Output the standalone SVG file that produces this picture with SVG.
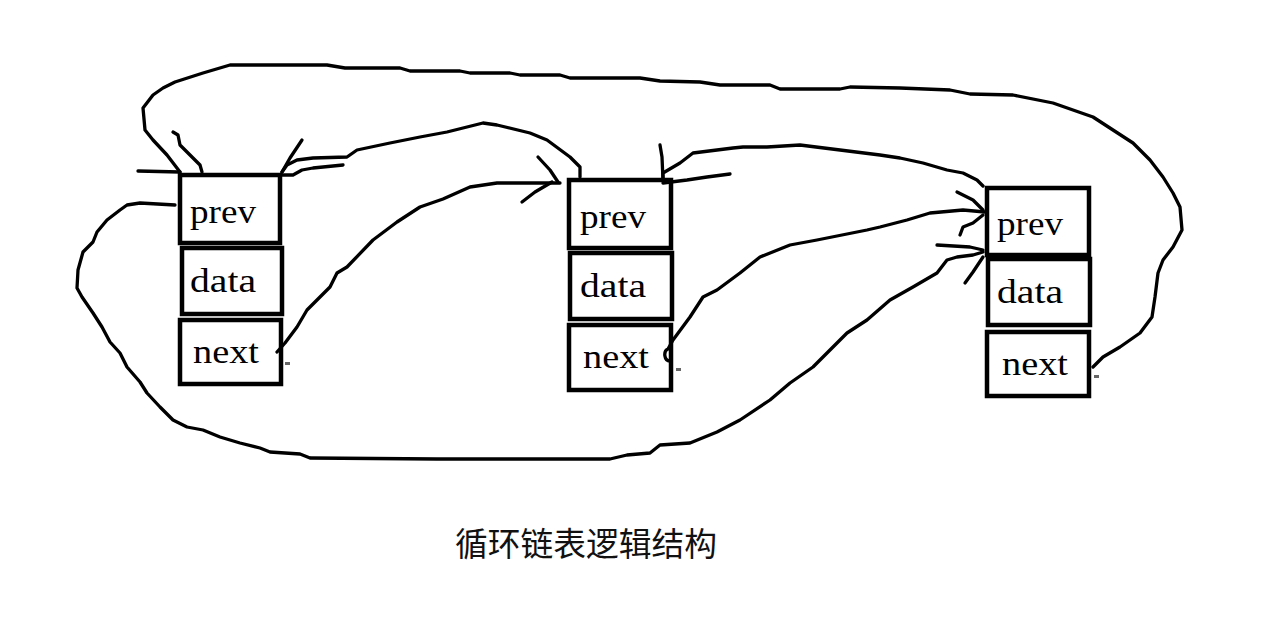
<svg xmlns="http://www.w3.org/2000/svg" width="1272" height="629" viewBox="0 0 1272 629">
<style>
.box{fill:none;stroke:#000;stroke-width:4.5}
.lbl{font-family:"Liberation Serif","DejaVu Serif",serif;font-size:33px;fill:#000}
.ln{fill:none;stroke:#000;stroke-width:3.3;stroke-linejoin:round;stroke-linecap:round}
.dot{fill:#666}
.cap{font-family:"Noto Sans CJK SC","Noto Sans",sans-serif;font-size:33px;fill:#111}
</style>
<rect width="1272" height="629" fill="#fff"/>
<g id="node1">
<rect class="box" x="180" y="175" width="100" height="68"/>
<rect class="box" x="182" y="248" width="100" height="66"/>
<rect class="box" x="180" y="320" width="101" height="64"/>
<text class="lbl" x="190" y="223" textLength="66" lengthAdjust="spacingAndGlyphs">prev</text>
<text class="lbl" x="190" y="292" textLength="66" lengthAdjust="spacingAndGlyphs">data</text>
<text class="lbl" x="193" y="363" textLength="66" lengthAdjust="spacingAndGlyphs">next</text>
<rect class="dot" x="285" y="362" width="5" height="3"/>
</g>
<g id="node2">
<rect class="box" x="569" y="180" width="102" height="68"/>
<rect class="box" x="570" y="253" width="102" height="66"/>
<rect class="box" x="569" y="325" width="102" height="65"/>
<text class="lbl" x="580" y="228" textLength="66" lengthAdjust="spacingAndGlyphs">prev</text>
<text class="lbl" x="580" y="297" textLength="66" lengthAdjust="spacingAndGlyphs">data</text>
<text class="lbl" x="583" y="368" textLength="66" lengthAdjust="spacingAndGlyphs">next</text>
<rect class="dot" x="676" y="368" width="5" height="3"/>
</g>
<g id="node3">
<rect class="box" x="987" y="188" width="102" height="67"/>
<rect class="box" x="988" y="259" width="102" height="66"/>
<rect class="box" x="987" y="332" width="102" height="64"/>
<text class="lbl" x="997" y="235" textLength="66" lengthAdjust="spacingAndGlyphs">prev</text>
<text class="lbl" x="997" y="303" textLength="66" lengthAdjust="spacingAndGlyphs">data</text>
<text class="lbl" x="1002" y="375" textLength="66" lengthAdjust="spacingAndGlyphs">next</text>
<rect class="dot" x="1094" y="375" width="5" height="3"/>
</g>
<g id="connectors">
<path class="ln" d="M1093,367 L1103,357 L1120,347 L1140,333 L1152,317 L1155,297 L1158,273 L1163,260 L1173,247 L1182,230 L1180,207 L1173,193 L1163,177 L1150,160 L1133,143 L1113,130 L1093,117 L1053,103 L1013,95 L970,94 L950,90 L900,88 L850,87 L840,89 L780,89 L770,85 L720,85 L700,82 L660,81 L640,78 L570,78 L560,75 L520,75 L510,73 L470,73 L460,71 L410,71 L400,68 L345,68 L327,65 L230,65 L203,73 L175,82 L163,88 L153,95 L143,108 L145,130 L153,140 L167,155 L180,172"/>
<path class="ln" d="M138,171 L180,172"/>
<path class="ln" d="M173,132 L178,135 L180,145 L190,155 L200,165 L202,172"/>
<path class="ln" d="M580,177 L580,167 L570,157 L547,140 L530,133 L497,125 L483,123 L447,132 L420,137 L390,143 L357,150 L347,157 L313,158 L297,160 L287,165 L282,172"/>
<path class="ln" d="M302,140 L290,158 L282,172"/>
<path class="ln" d="M282,175 L293,175 L302,170 L313,168 L343,165"/>
<path class="ln" d="M277,352 L285,343 L297,327 L307,310 L330,287 L337,273 L347,267 L373,240 L397,222 L420,207 L443,199 L470,187 L497,183 L560,183"/>
<path class="ln" d="M538,157 L550,170 L558,182"/>
<path class="ln" d="M522,202 L535,192 L552,182"/>
<path class="ln" d="M983,186 L977,180 L963,173 L947,170 L923,163 L900,158 L880,155 L800,145 L767,147 L743,147 L733,148 L693,153 L680,163 L663,173 L663,180"/>
<path class="ln" d="M660,145 L662,157 L663,180"/>
<path class="ln" d="M663,183 L687,180 L707,177 L730,174"/>
<path class="ln" d="M670,361 C664,361 663,351 668,349 L673,340 L690,317 L703,297 L717,290 L740,273 L760,257 L790,245 L817,240 L867,230 L880,227 L907,220 L930,213 L963,210 L985,212"/>
<path class="ln" d="M957,192 L973,200 L983,210"/>
<path class="ln" d="M960,235 L963,227 L973,223 L983,215"/>
<path class="ln" d="M175,205 L140,203 L127,205 L120,210 L107,220 L97,232 L93,242 L83,252 L78,270 L77,288 L82,297 L93,313 L102,327 L110,342 L120,353 L127,367 L140,382 L147,393 L160,407 L173,420 L187,427 L203,430 L220,437 L240,443 L260,448 L270,452 L300,454 L310,458 L437,459 L610,459 L627,455 L650,453 L660,445 L690,443 L717,432 L740,420 L770,400 L790,383 L813,367 L830,350 L847,333 L867,320 L890,300 L913,287 L937,273 L947,260 L957,257 L973,255 L983,252"/>
<path class="ln" d="M937,245 L970,247 L983,250"/>
<path class="ln" d="M965,283 L973,272 L983,257"/>
</g>
<text class="cap" x="455" y="556" textLength="262" lengthAdjust="spacingAndGlyphs">循环链表逻辑结构</text>
</svg>
